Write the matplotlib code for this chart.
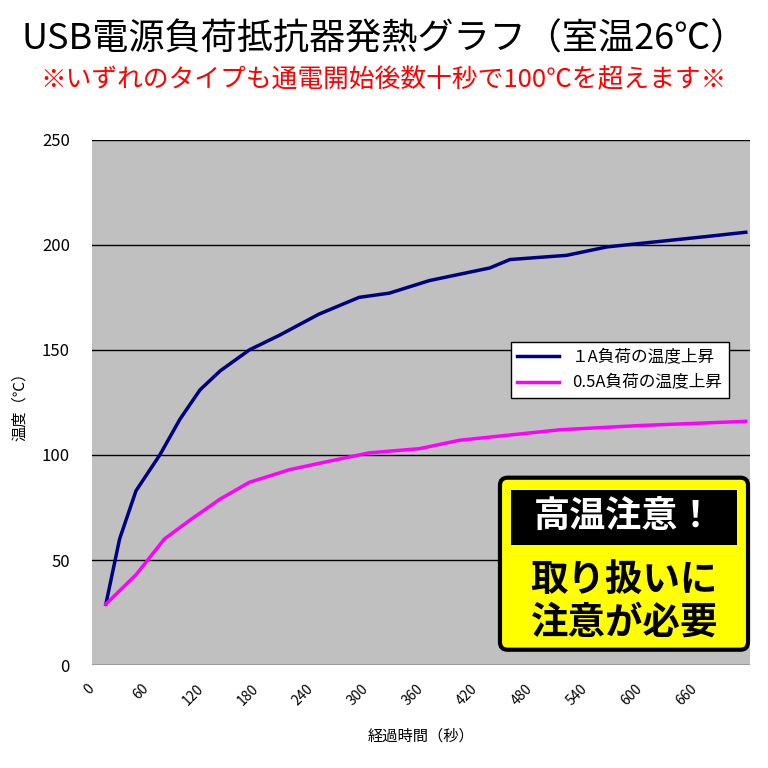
import matplotlib
matplotlib.use('Agg')
import matplotlib.pyplot as plt
from matplotlib.patches import FancyBboxPatch, Rectangle

plt.rcParams['font.family'] = ['Noto Sans CJK JP', 'DejaVu Sans']

t_1a = [10, 25, 43, 69, 91, 113, 135, 167, 200, 243, 287, 320, 364, 408, 430, 452, 514, 558, 602, 668, 710]
temp_1a = [29, 60, 83, 100, 117, 131, 140, 150, 157, 167, 175, 177, 183, 187, 189, 193, 195, 199, 201, 204, 206]
t_05a = [10, 43, 74, 102, 135, 167, 211, 254, 298, 353, 397, 441, 507, 594, 710]
temp_05a = [29, 43, 60, 69, 79, 87, 93, 97, 101, 103, 107, 109, 112, 114, 116]
xticks = list(range(0, 661, 60))

fig = plt.figure(figsize=(7.68, 7.68), dpi=100)
ax = fig.add_axes([0.12, 0.134, 0.857, 0.684])
ax.set_facecolor('#c0c0c0')
ax.plot(t_1a, temp_1a, color='#000080', lw=2.5, label='１A負荷の温度上昇')
ax.plot(t_05a, temp_05a, color='#ff00ff', lw=2.5, label='0.5A負荷の温度上昇')
ax.set_xlim(-5, 715)
ax.set_ylim(0, 250)
ax.set_yticks(range(0, 251, 50))
ax.yaxis.grid(True, color='black', lw=1)
ax.set_xticks(xticks)
ax.set_xticklabels([str(v) for v in xticks], rotation=45, ha='right', fontsize=10)
ax.tick_params(axis='y', labelsize=12, length=0, pad=16)
ax.tick_params(axis='x', length=0, pad=12)
for s in ['top', 'right', 'left', 'bottom']:
    ax.spines[s].set_visible(False)
ax.set_xlabel('経過時間（秒）', fontsize=11, labelpad=14)
ax.set_ylabel('温度（℃）', fontsize=11, labelpad=10)

leg = ax.legend(loc='upper right', bbox_to_anchor=(0.98, 0.63), fontsize=12,
                fancybox=False, framealpha=1, edgecolor='black', handlelength=2.5)

fig.text(0.5, 0.948, 'USB電源負荷抵抗器発熱グラフ（室温26℃）', ha='center', va='center', fontsize=26)
fig.text(0.5, 0.896, '※いずれのタイプも通電開始後数十秒で100℃を超えます※', ha='center',
         va='center', fontsize=18.5, color='#ff0000')

# warning box
fig.patches.append(FancyBboxPatch((0.651, 0.154), 0.323, 0.224, boxstyle='round,pad=0,rounding_size=0.01',
                                  transform=fig.transFigure, facecolor='#ffff00', edgecolor='black', lw=3))
fig.patches.append(Rectangle((0.665, 0.29), 0.295, 0.072, transform=fig.transFigure,
                             facecolor='black', edgecolor='none'))
fig.text(0.8125, 0.326, '高温注意！', ha='center', va='center', fontsize=26, color='white', fontweight='bold')
fig.text(0.8125, 0.245, '取り扱いに', ha='center', va='center', fontsize=27, color='black', fontweight='bold')
fig.text(0.8125, 0.190, '注意が必要', ha='center', va='center', fontsize=27, color='black', fontweight='bold')

plt.savefig('out.png', dpi=100)
plt.close()
